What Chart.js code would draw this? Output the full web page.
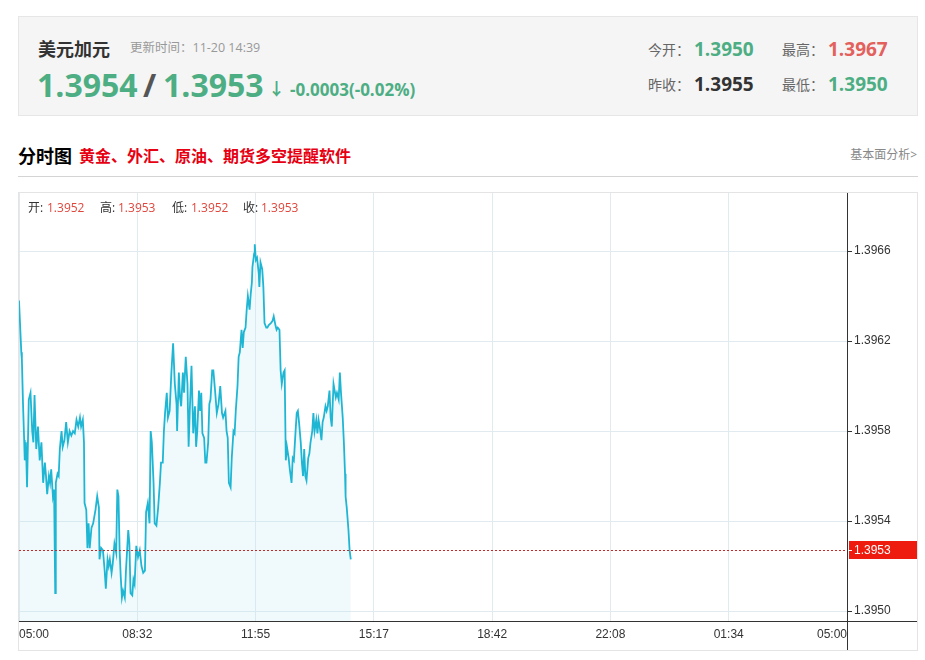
<!DOCTYPE html>
<html><head><meta charset="utf-8">
<script src="https://cdn.jsdelivr.net/npm/chart.js@4"></script>
<style>
html,body{margin:0;padding:0;background:#fff;}
body{width:925px;height:660px;position:relative;overflow:hidden;font-family:"Open Sans","Noto Sans CJK SC",sans-serif;}
.a{position:absolute;white-space:nowrap;}
#head{position:absolute;left:18px;top:16px;width:898px;height:98px;background:#f5f5f5;border:1px solid #e6e6e6;}
#wrap{position:absolute;left:18px;top:192px;width:898px;height:457px;border:1px solid #e4e4e4;}
#c{display:block;}
.g{color:#4dae84;font-weight:bold;}
.r{color:#e3605c;font-weight:bold;}
.lab{font-size:14px;color:#666;font-family:"Noto Sans CJK SC",sans-serif;}
.o{font-size:12px;color:#333;line-height:16px;top:200px;}
.ov{color:#e0463c;}
</style>
</head><body>
<div id="head"></div>
<div class="a" style="left:38px;top:37px;font-size:18px;line-height:22px;font-weight:bold;color:#333;font-family:'Noto Sans CJK SC',sans-serif;">美元加元</div>
<div class="a" style="left:130px;top:40px;font-size:12.5px;line-height:16px;color:#999;">更新时间：11-20 14:39</div>
<div class="a g" style="left:37px;top:64px;font-size:32px;line-height:42px;">1.3954</div>
<div class="a" style="left:143px;top:64px;font-size:32px;line-height:42px;font-weight:bold;color:#555;">/</div>
<div class="a g" style="left:163px;top:64px;font-size:32px;line-height:42px;">1.3953</div>
<div class="a g" style="left:268px;top:78px;font-size:17px;line-height:22px;">↓</div>
<div class="a g" style="left:290px;top:79px;font-size:17px;line-height:22px;">-0.0003(-0.02%)</div>

<div class="a lab" style="left:648px;top:39px;line-height:20px;">今开：</div>
<div class="a g" style="left:694px;top:36px;font-size:19px;line-height:26px;">1.3950</div>
<div class="a lab" style="left:782px;top:39px;line-height:20px;">最高：</div>
<div class="a r" style="left:828px;top:36px;font-size:19px;line-height:26px;">1.3967</div>
<div class="a lab" style="left:648px;top:74px;line-height:20px;">昨收：</div>
<div class="a" style="left:694px;top:71px;font-size:19px;line-height:26px;font-weight:bold;color:#333;">1.3955</div>
<div class="a lab" style="left:782px;top:74px;line-height:20px;">最低：</div>
<div class="a g" style="left:828px;top:71px;font-size:19px;line-height:26px;">1.3950</div>

<div class="a" style="left:18px;top:143px;font-size:18px;line-height:24px;font-weight:bold;color:#000;font-family:'Noto Sans CJK SC',sans-serif;">分时图</div>
<div class="a" style="left:79px;top:144px;font-size:16px;line-height:22px;font-weight:bold;color:#e60012;font-family:'Noto Sans CJK SC',sans-serif;">黄金、外汇、原油、期货多空提醒软件</div>
<div class="a" style="right:8px;top:147px;font-size:12px;line-height:16px;color:#888;">基本面分析&gt;</div>
<div class="a" style="left:18px;top:176px;width:900px;height:1px;background:#d4d4d4;"></div>

<div id="wrap"><canvas id="c" width="898" height="457"></canvas></div>

<div class="a o" style="left:28px;">开:</div><div class="a o ov" style="left:47px;">1.3952</div>
<div class="a o" style="left:100px;">高:</div><div class="a o ov" style="left:118px;">1.3953</div>
<div class="a o" style="left:172px;">低:</div><div class="a o ov" style="left:191px;">1.3952</div>
<div class="a o" style="left:243px;">收:</div><div class="a o ov" style="left:261px;">1.3953</div>

<script>
// minutes after 05:00
const minutes = [
0,4,5,7,9,10,12,14,17,20,23,25,27,30,33,36,39,42,45,47,
49,52,54,56,59,61,63,64,67,69,71,74,76,79,82,85,88,91,94,97,
100,103,106,108,111,113,114,117,119,121,123,126,129,133,136,139,140,143,146,149,
151,154,156,158,161,163,166,169,171,173,175,177,179,181,184,186,190,192,194,197,
199,201,204,207,210,213,216,219,221,224,227,229,231,234,236,239,242,245,247,250,
252,254,257,259,262,265,268,271,274,275,278,280,282,285,287,290,293,295,297,300,
303,306,308,310,313,315,317,319,322,324,326,329,331,333,336,338,341,344,347,350,
353,355,359,361,363,365,368,370,373,375,377,380,382,384,387,389,391,394,396,398,
401,403,405,406,409,410,412,414,417,418,420,423,425,427,430,432,434,438,441,443,
446,448,450,453,455,457,460,462,464,466,469,471,474,476,478,481,483,485,487,490,
492,494,496,498,500,503,505,507,510,512,514,517,519,521,523,526,528,530,533,535,
537,540,542,544,547,549,551,553,556,558,560,563,565,567,568,570,573,575,577
];
const prices = [
1.39638,1.39615,1.39612,1.39592,1.39576,1.39567,1.39575,1.39555,1.39594,1.39597,1.39580,1.39575,1.39596,1.39572,1.39582,1.39567,1.39575,1.39557,1.39566,1.39560,
1.39552,1.39560,1.39557,1.39563,1.39551,1.39554,1.39508,1.39557,1.39561,1.39560,1.39572,1.39580,1.39573,1.39576,1.39584,1.39575,1.39580,1.39578,1.39580,1.39579,
1.39585,1.39582,1.39586,1.39582,1.39585,1.39575,1.39548,1.39545,1.39528,1.39539,1.39528,1.39537,1.39539,1.39545,1.39551,1.39546,1.39523,1.39528,1.39527,1.39518,
1.39510,1.39523,1.39520,1.39523,1.39517,1.39521,1.39530,1.39526,1.39554,1.39551,1.39527,1.39515,1.39506,1.39509,1.39506,1.39518,1.39536,1.39530,1.39508,1.39507,
1.39514,1.39512,1.39529,1.39524,1.39527,1.39520,1.39517,1.39518,1.39544,1.39548,1.39539,1.39580,1.39575,1.39557,1.39539,1.39538,1.39546,1.39557,1.39566,1.39566,
1.39580,1.39588,1.39597,1.39586,1.39589,1.39606,1.39619,1.39601,1.39592,1.39580,1.39606,1.39595,1.39591,1.39606,1.39597,1.39613,1.39601,1.39573,1.39589,1.39609,
1.39579,1.39591,1.39573,1.39580,1.39598,1.39589,1.39597,1.39579,1.39577,1.39566,1.39566,1.39575,1.39592,1.39594,1.39607,1.39607,1.39598,1.39588,1.39592,1.39600,
1.39588,1.39586,1.39589,1.39580,1.39577,1.39557,1.39555,1.39568,1.39580,1.39579,1.39589,1.39600,1.39613,1.39615,1.39625,1.39617,1.39624,1.39626,1.39634,1.39640,
1.39634,1.39641,1.39646,1.39653,1.39659,1.39663,1.39656,1.39657,1.39650,1.39644,1.39655,1.39652,1.39644,1.39628,1.39626,1.39626,1.39627,1.39628,1.39629,1.39631,
1.39627,1.39625,1.39626,1.39625,1.39607,1.39601,1.39606,1.39607,1.39567,1.39573,1.39568,1.39563,1.39557,1.39568,1.39567,1.39580,1.39588,1.39589,1.39584,1.39575,
1.39566,1.39560,1.39572,1.39560,1.39558,1.39568,1.39570,1.39575,1.39580,1.39588,1.39580,1.39585,1.39579,1.39585,1.39582,1.39576,1.39584,1.39586,1.39591,1.39589,
1.39591,1.39598,1.39586,1.39582,1.39601,1.39598,1.39595,1.39597,1.39594,1.39606,1.39597,1.39586,1.39575,1.39561,1.39551,1.39546,1.39536,1.39527,1.39523
];
const xTickLabels = ['05:00','08:32','11:55','15:17','18:42','22:08','01:34','05:00'];
const yTicks = [1.3950, 1.3954, 1.3958, 1.3962, 1.3966];
const totalMinutes = 1440;
const yMin = 1.394956, yMax = 1.396858;
const lastPrice = 1.39527;
const lastLabel = '1.3953';

Chart.defaults.font.family = '"Liberation Sans", Arial, sans-serif';
Chart.defaults.font.size = 12;
Chart.defaults.color = '#333';

const overlay = {
  id: 'overlay',
  afterDraw(chart) {
    const {ctx, chartArea: a, scales: {y}} = chart;
    ctx.save();
    ctx.strokeStyle = '#333'; ctx.lineWidth = 1;
    ctx.beginPath();
    ctx.moveTo(a.right + 0.5, 0); ctx.lineTo(a.right + 0.5, chart.height);
    ctx.moveTo(0, a.bottom + 0.5); ctx.lineTo(chart.width, a.bottom + 0.5);
    ctx.stroke();
    const py = Math.round(y.getPixelForValue(lastPrice)) + 0.5;
    ctx.strokeStyle = '#c62828'; ctx.setLineDash([2, 2]);
    ctx.beginPath(); ctx.moveTo(a.left, py); ctx.lineTo(a.right, py); ctx.stroke();
    ctx.setLineDash([]);
    ctx.fillStyle = '#ee1c0e';
    ctx.fillRect(a.right + 2, py - 9.5, chart.width - a.right - 2, 18);
    ctx.strokeStyle = '#fff';
    ctx.beginPath(); ctx.moveTo(a.right + 2, py); ctx.lineTo(a.right + 5, py); ctx.stroke();
    ctx.fillStyle = '#fff';
    ctx.font = '12px "Liberation Sans", Arial, sans-serif';
    ctx.textBaseline = 'middle';
    ctx.fillText(lastLabel, a.right + 7, py);
    ctx.restore();
  }
};

const noPad = s => { s.paddingLeft = 0; s.paddingRight = 0; s.paddingTop = 0; s.paddingBottom = 0; };

new Chart(document.getElementById('c'), {
  type: 'line',
  data: {
    datasets: [{
      data: prices.map((p, i) => ({x: minutes[i], y: p})),
      borderColor: '#1fb6d4',
      borderWidth: 1.8,
      backgroundColor: 'rgba(180,228,243,0.2)',
      fill: 'start',
      pointRadius: 0,
      tension: 0
    }]
  },
  options: {
    responsive: false,
    animation: false,
    events: [],
    layout: {padding: 0},
    plugins: {legend: {display: false}, tooltip: {enabled: false}},
    scales: {
      x: {
        type: 'linear',
        min: 0, max: totalMinutes,
        afterBuildTicks: s => { s.ticks = xTickLabels.map((l, i) => ({value: i * totalMinutes / (xTickLabels.length - 1)})); },
        afterFit: s => { s.height = 29; noPad(s); },
        grid: {color: '#e1ebef', drawTicks: false},
        border: {display: false},
        ticks: {callback: (v, i) => xTickLabels[i], align: 'inner', padding: 6, maxRotation: 0, autoSkip: false, color: '#333'}
      },
      y: {
        type: 'linear',
        position: 'right',
        min: yMin, max: yMax,
        afterBuildTicks: s => { s.ticks = yTicks.map(v => ({value: v})); },
        afterFit: s => { s.width = 70; noPad(s); },
        grid: {color: '#e1ebef', tickColor: '#333', tickLength: 5, drawTicks: true},
        border: {display: false},
        ticks: {callback: v => Number(v).toFixed(4), padding: 2, color: '#333', autoSkip: false}
      }
    }
  },
  plugins: [overlay]
});
</script>
</body></html>
